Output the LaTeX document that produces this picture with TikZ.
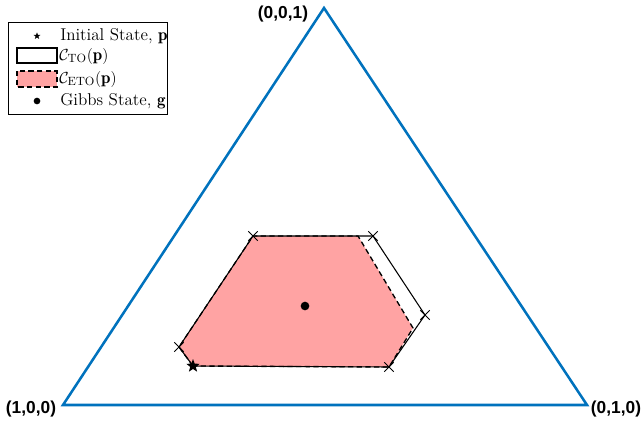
\documentclass[tikz,border=0pt]{standalone}
\usepackage{amsmath}
\usepackage{fontspec}
\newfontfamily\cornerfont{Liberation Sans}
\usepackage{tikz}
\usetikzlibrary{shapes.geometric,shapes.misc,calc}
\definecolor{simplexblue}{RGB}{0,114,189}
\definecolor{etopink}{RGB}{255,163,163}

\begin{document}
\begin{tikzpicture}[x=0.75pt,y=-0.75pt, font=\fontsize{12.8}{14}\selectfont,
  corner/.style={font=\cornerfont\bfseries\fontsize{13}{15}\selectfont, inner sep=0pt},
  xmark/.style={draw,cross out,inner sep=0pt,minimum size=6.5pt,line width=0.6pt},
  initstar/.style={star,star points=5,star point ratio=2.4,fill=black,inner sep=0pt,minimum size=10.5pt},
  gibbsdot/.style={circle,fill=black,inner sep=0pt,minimum size=6.5pt},
  etoline/.style={dash pattern=on 4pt off 2.5pt,line width=1pt},
  legtext/.style={anchor=west,inner sep=0pt}]
  \useasboundingbox (0,0) rectangle (644,426);
  % simplex corners
  \coordinate (e1) at (63,405);
  \coordinate (e2) at (587,405);
  \coordinate (e3) at (324,8);
  \draw[simplexblue,line width=1.9pt,line join=miter] (e1) -- (e2) -- (e3) -- cycle;
  \node[corner] (l1) at (31,409) {(1,0,0)};
  \node[corner] (l2) at (616,409) {(0,1,0)};
  \node[corner] (l3) at (283,14) {(0,0,1)};
  % vertices of the cones
  \coordinate (p) at (193,366);
  \foreach \n/\x/\y in {a/179/347,b/253/236,c/373/236,d/425/315,e/389/367}
    \coordinate (\n) at (\x,\y);
  \coordinate (c') at (358,236);
  \coordinate (d') at (413,328);
  % thermal cones
  \fill[etopink] (p) -- (a) -- (b) -- (c') -- (d') -- (e) -- cycle;
  \draw[line width=0.8pt] (p) -- (a) -- (b) -- (c) -- (d) -- (e) -- cycle;
  \draw[etoline] (p) -- (a) -- (b) -- (c') -- (d') -- (e) -- cycle;
  \foreach \n in {a,b,c,d,e} \node[xmark] (x\n) at (\n) {};
  \node[initstar] (pstar) at (p) {};
  \node[gibbsdot] (g) at (305,306) {};
  % legend
  \draw[line width=0.5pt,fill=white] (8,22) rectangle (167,114);
  \node[initstar,minimum size=5.5pt] (k1) at (37,36) {};
  \node[legtext] (t1) at (60,36) {Initial State, $\mathbf{p}$};
  \draw[line width=0.8pt] (17,48) rectangle (57,63);
  \node[legtext] (t2) at (59,56) {$\mathcal{C}_{\mathrm{TO}}(\mathbf{p})$};
  \draw[etoline,fill=etopink] (17,71) rectangle (57,87);
  \node[legtext] (t3) at (59,79) {$\mathcal{C}_{\mathrm{ETO}}(\mathbf{p})$};
  \node[gibbsdot,minimum size=5pt] (k4) at (37,101) {};
  \node[legtext] (t4) at (60,101) {Gibbs State, $\mathbf{g}$};
\end{tikzpicture}
\end{document}
